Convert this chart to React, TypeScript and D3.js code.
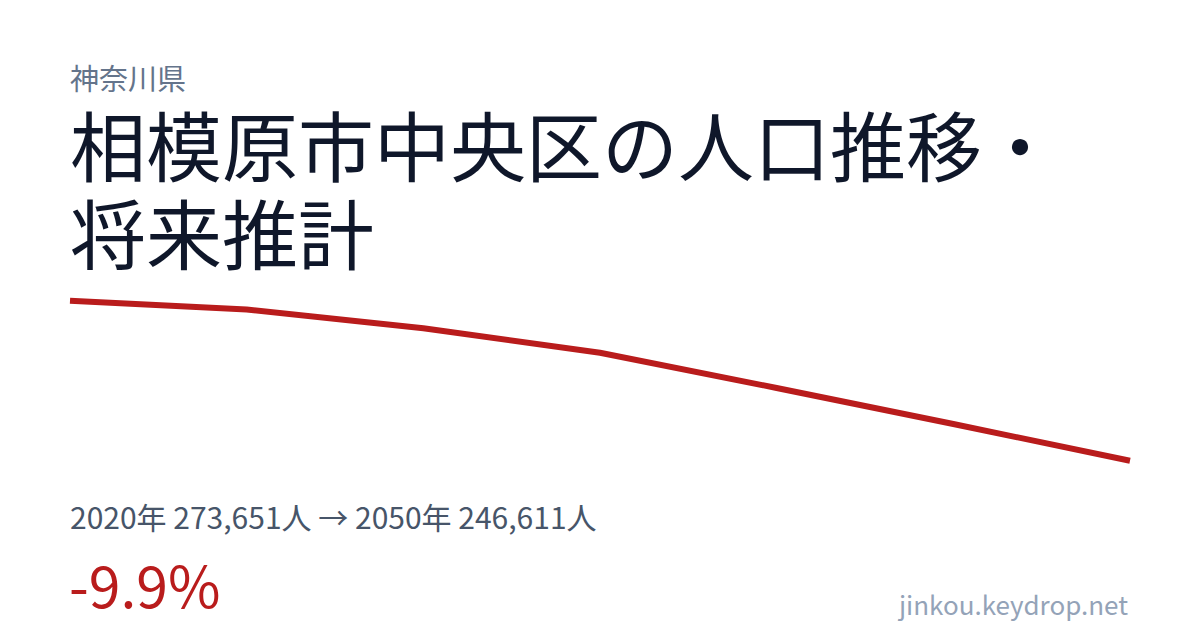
import React from 'react';
import * as d3 from 'd3';

const years = [2020, 2025, 2030, 2035, 2040, 2045, 2050];
const population = [273651, 272160, 268990, 264860, 258900, 252810, 246611];

const prefecture = '神奈川県';
const titleLines = ['相模原市中央区の人口推移・', '将来推計'];
const summary = '2020年 273,651人 → 2050年 246,611人';
const change = '-9.9%';
const site = 'jinkou.keydrop.net';

const width = 1200;
const height = 630;
const font = '"Noto Sans CJK JP", "Noto Sans", sans-serif';

const App = () => {
  const x = d3
    .scalePoint<number>()
    .domain(years)
    .range([70, 1130]);

  const y = d3
    .scaleLinear()
    .domain([d3.min(population) as number, d3.max(population) as number])
    .range([460.7, 300.7]);

  const line = d3
    .line<number>()
    .x((_, i) => x(years[i]) || 0)
    .y((d) => y(d));

  return (
    <svg
      width={width}
      height={height}
      viewBox={`0 0 ${width} ${height}`}
      style={{ position: 'absolute', left: 0, top: 0, background: '#fff' }}
    >
      <rect width={width} height={height} fill="#fff" />
      <text x={70} y={90} fontFamily={font} fontSize={29} fill="#64748b">
        {prefecture}
      </text>
      {titleLines.map((t, i) => (
        <text
          key={t}
          x={70}
          y={176 + i * 88}
          fontFamily={font}
          fontSize={76}
          fill="#0f172a"
        >
          {t}
        </text>
      ))}
      <path
        d={line(population) || ''}
        fill="none"
        stroke="#b91c1c"
        strokeWidth={6}
        strokeLinejoin="round"
      />
      <text x={70} y={529} fontFamily={font} fontSize={30} fill="#475569">
        {summary}
      </text>
      <text x={69} y={608} fontFamily={font} fontSize={57} fill="#b91c1c">
        {change}
      </text>
      <text
        x={1128}
        y={615}
        textAnchor="end"
        fontFamily={font}
        fontSize={26}
        fill="#94a3b8"
      >
        {site}
      </text>
    </svg>
  );
};

export default App;
